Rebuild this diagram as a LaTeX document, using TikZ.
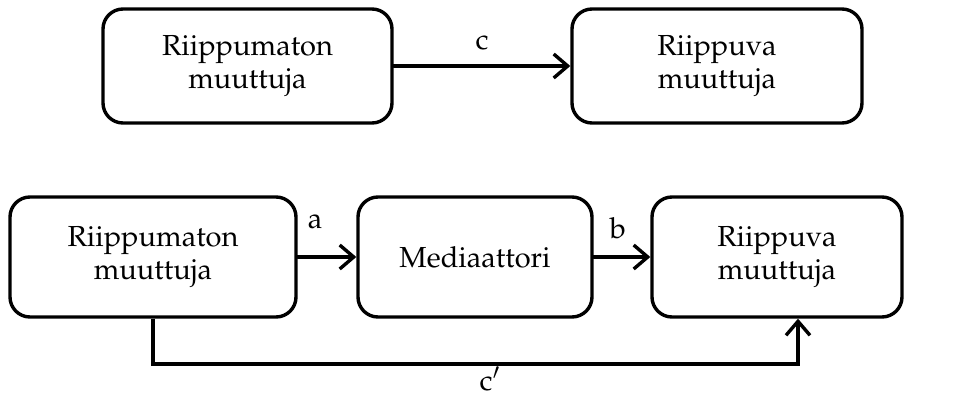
\documentclass[tikz,border=0pt]{standalone}
\usepackage[T1]{fontenc}
\usepackage{mathpazo}
\usetikzlibrary{arrows.meta}

\tikzset{
  box/.style={draw, line width=1.7pt, rounded corners=10pt, align=center,
    inner sep=0pt, font=\fontsize{14.5}{16.5}\selectfont},
  conn/.style={line width=1.7pt, line cap=round,
    -{Straight Barb[length=7pt,width=12pt,line width=1.7pt]}},
  lbl/.style={inner sep=0pt, font=\fontsize{14.5}{16.5}\selectfont},
}

\begin{document}
\begin{tikzpicture}[x=0.5pt, y=-0.5pt]
  \useasboundingbox (0,0) rectangle (955,397);

  % direct effect
  \node[box, minimum width=144.5pt, minimum height=57pt] (iv1) at (247.5,66)
    {Riippumaton\\muuttuja};
  \node[box, minimum width=145pt, minimum height=57pt] (dv1) at (717,66)
    {Riippuva\\muuttuja};
  \draw[conn] (iv1) -- (dv1);
  \node[lbl] (c) at (482,43) {c};

  % mediated model
  \node[box, minimum width=143pt, minimum height=60pt] (iv2) at (153,257)
    {Riippumaton\\muuttuja};
  \node[box, minimum width=117pt, minimum height=60pt] (med) at (475,257)
    {Mediaattori};
  \node[box, minimum width=125pt, minimum height=60pt] (dv2) at (777,257)
    {Riippuva\\muuttuja};
  \draw[conn] (iv2) -- (med);
  \draw[conn] (med) -- (dv2);
  \node[lbl] (a) at (315,222) {a};
  \node[lbl] (b) at (618,228) {b};

  \coordinate (turn) at (798,364);
  \draw[conn, line cap=butt] (iv2.south) |- (turn) -- (turn |- dv2.south);
  \node[lbl, anchor=base] (cp) at (490,390.5) {c$'$};
\end{tikzpicture}
\end{document}
